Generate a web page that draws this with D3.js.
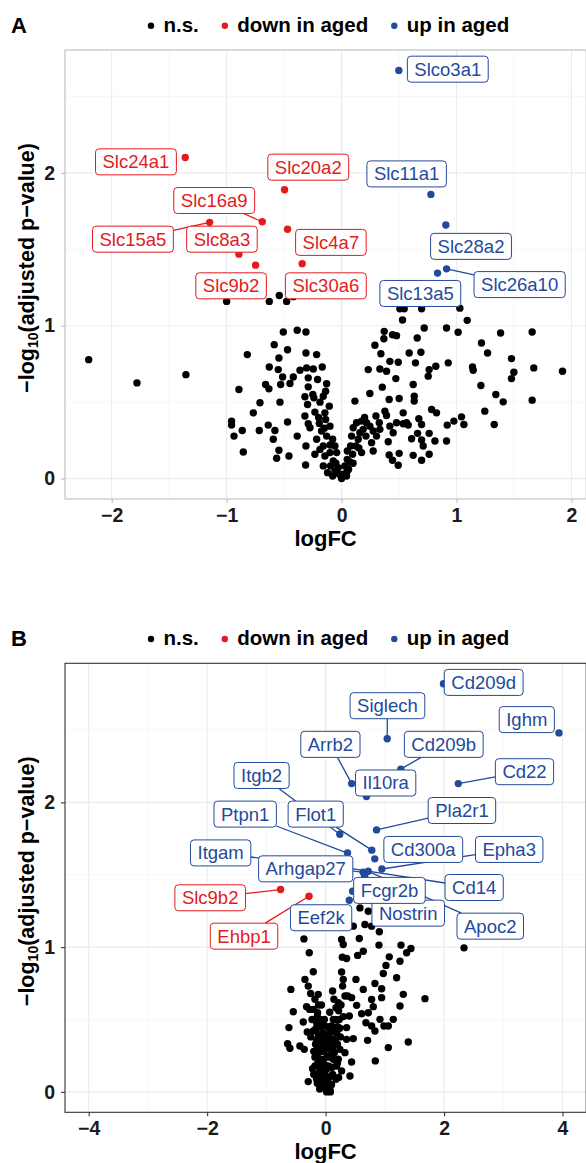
<!DOCTYPE html>
<html>
<head>
<meta charset="utf-8">
<script src="https://cdn.jsdelivr.net/npm/d3@7"></script>
<style>
  body { margin: 0; background: #fff; }
  svg { display: block; }
</style>
</head>
<body>
<svg width="586" height="1163"></svg>
<script>
// ---- panel A : n.s. points [logFC, -log10 adj p]
const nsA = [
  [-2.20,0.778],[-1.78,0.626],[-1.354,0.680],
  [-1.0,1.159],[-0.629,1.159],[-0.542,1.198],[-0.478,1.159],[-0.42,1.19],
  [-0.507,0.959],[-0.386,0.970],[-0.31,0.959],
  [-0.586,0.876],[-0.47,0.843],[-0.82,0.811],[-0.31,0.822],[-0.217,0.811],
  [-0.545,0.789],[-0.629,0.730],[-0.551,0.713],[-0.513,0.665],[-0.362,0.709],[-0.304,0.724],[-0.246,0.717],[-0.168,0.730],[-0.42,0.665],[-0.29,0.659],[-0.209,0.648],
  [-0.893,0.583],[-0.661,0.615],[-0.632,0.587],[-0.530,0.615],[-0.449,0.622],[-0.29,0.6],[-0.13,0.62],
  [-0.71,0.496],[-0.536,0.5],[-0.319,0.535],[-0.241,0.528],[-0.159,0.539],[-0.296,0.485],[-0.188,0.5],[-0.107,0.474],[-0.139,0.572],
  [-0.768,0.430],[-0.957,0.376],[-0.957,0.35],[-0.864,0.315],[-0.936,0.278],[-0.855,0.174],[-0.716,0.315],[-0.638,0.35],[-0.58,0.315],[-0.594,0.257],[-0.545,0.185],[-0.565,0.133],[-0.458,0.148],[-0.47,0.37],[-0.386,0.278],[-0.319,0.409],[-0.29,0.359],[-0.232,0.435],[-0.275,0.333],[-0.31,0.213],[-0.313,0.089],[-0.232,0.159],[-0.194,0.361],[-0.145,0.430],[-0.139,0.387],[-0.101,0.343],[-0.174,0.311],[-0.217,0.257],[-0.159,0.213],[-0.13,0.278],[-0.188,0.191],[-0.145,0.148],[-0.101,0.17],[-0.159,0.083],[-0.122,0.039],[-0.072,0.115],[-0.058,0.05],[-0.078,0.017],[-0.029,0.072],[0,0],[-0.02,0.028],[0.014,0.028],[0.043,0.017],[0.061,0.061],[0.072,0.109],[0.096,0.159],
  [0.101,0.333],[0.116,0.507],[0.125,0.213],[0.145,0.257],[0.159,0.3],[0.174,0.17],[0.188,0.322],[0.212,0.278],[0.246,0.343],[0.261,0.235],[0.275,0.180],[0.299,0.409],[0.328,0.365],[0.246,0.557],[0.232,0.713],[0.29,0.872],[0.342,0.817],[0.371,0.963],[0.368,0.915],[0.333,0.717],[0.391,0.702],[0.354,0.598],[0.414,0.517],[0.420,0.767],[0.443,0.941],[0.478,0.935],[0.493,0.761],[0.472,0.654],[0.501,0.524],[0.536,0.430],[0.377,0.441],[0.391,0.413],[0.406,0.241],[0.414,0.154],[0.443,0.12],[0.493,0.087],[0.501,0.165],[0.536,0.359],[0.565,0.365],[0.58,0.35],[0.449,0.3],
  [0.530,1.037],[0.545,1.111],[0.507,1.111],[0.588,0.822],[0.623,0.615],[0.632,0.539],[0.632,0.507],[0.643,0.757],[0.658,0.920],[0.690,0.826],[0.719,0.985],[0.696,1.111],[0.754,0.670],[0.762,0.713],[0.82,0.735],[0.783,0.452],[0.826,0.430],[0.672,0.391],[0.696,0.354],[0.661,0.296],[0.609,0.261],[0.696,0.252],[0.71,0.213],[0.762,0.296],[0.812,0.246],[0.762,0.159],[0.696,0.12],[0.623,0.152],
  [0.913,0.985],[0.928,0.757],[0.913,0.246],[0.919,0.35],[0.977,0.376],[1.014,0.957],[1.029,1.115],[1.093,1.035],[1.043,0.404],[1.064,0.354],[1.139,0.730],[1.145,0.709],[1.217,0.887],[1.270,0.822],[1.212,0.609],[1.246,0.441],[1.328,0.354],[1.342,0.55],[1.406,0.502],[1.383,0.952],[1.478,0.785],[1.499,0.696],[1.478,0.654],[1.658,0.959],[1.672,0.724],[1.658,0.513],[1.922,0.702],
  [-0.078,0.257],[-0.058,0.213],[-0.043,0.17],[-0.096,0.083],[0.078,0.213],[0.049,0.126],[0.087,0.278],[0.029,0.083],[0.13,0.365],[0.174,0.376],[0.217,0.365],[0.275,0.311],[0.333,0.322],[0.42,0.343],[0.478,0.365],[0.304,0.278],
  [-0.05,0.1],[0.05,0.05],[-0.1,0.22],[0.1,0.1],[-0.15,0.33],[0.15,0.2],[-0.2,0.4],[0.2,0.4],[-0.25,0.55],[0.05,0.18]
];

// ---- panel A : significant genes
const genesA  = ['Slco3a1','Slc24a1','Slc20a2','Slc11a1','Slc16a9','Slc15a5','Slc4a7','Slc28a2','Slc8a3','Slc9b2','Slc30a6','Slc26a10','Slc13a5'];
const logFCA  = [0.498, -1.36, -0.496, 0.777, -0.69, -1.148, -0.47, 0.907, -0.893, -0.748, -0.343, 0.913, 0.835];
const pvalA   = [2.67, 2.10, 1.889, 1.859, 1.68, 1.676, 1.631, 1.659, 1.468, 1.396, 1.406, 1.372, 1.344];
const dirA    = ['up','down','down','up','down','down','down','up','down','down','down','up','up'];

// ---- panel B : n.s. points
const nsB = [
  [-0.366,1.057],[-0.276,0.961],[-0.208,0.830],[-0.349,0.777],[-0.293,0.731],[-0.253,0.680],[-0.124,0.674],[-0.586,0.708],[-0.321,0.589],[-0.208,0.570],[-0.546,0.554],[-0.135,0.547],[-0.377,0.483],[-0.152,0.478],[-0.619,0.444],[-0.31,0.414],[-0.208,0.421],[-0.642,0.333],[-0.603,0.301],[-0.434,0.317],[-0.36,0.294],[-0.293,0.071],[-0.152,0.363],[-0.124,0.271],[-0.18,0.179],[-0.107,0.133],[-0.039,0.087],[0,0.018],[-0.068,0.053],[0.062,0.053],[0.101,0.110],[0.045,0.179],[0.13,0.225],[0.084,0.294],[0.118,0.363],[0.158,0.421],[0.13,0.501],[0.175,0.582],[0.118,0.697],[0.214,0.616],[0.287,0.731],[0.270,0.828],[0.282,0.931],[0.355,0.922],[0.270,1.053],[0.298,1.018],
  [0.569,1.060],[0.541,0.943],[0.636,0.972],[0.512,0.777],[0.636,0.708],[0.372,0.662],[0.439,0.651],[0.524,0.598],[0.4,0.524],[0.608,0.540],[0.721,0.547],[0.355,0.444],[0.467,0.368],[0.355,0.363],[0.439,0.207],[0.411,0.110],[0.327,0.271],[0.242,0.294],[0.214,0.225],[0.270,0.145],[0.186,0.179],[0.175,0.087],
  [0.833,0.749],[0.777,0.639],[0.805,0.589],[0.681,0.478],[0.777,0.455],[0.833,0.421],[0.709,0.356],[0.839,0.214],[0.946,0.713],[0.946,0.651],[0.918,0.501],[0.985,0.455],[1.059,0.306],[0.907,1.106],[0.901,1.014],[1.019,0.874],[0.974,0.818],[1.199,0.789],[1.075,0.933],[1.273,1.014],[1.441,0.991],[1.368,0.961],[1.256,0.903],[1.312,0.674],[1.256,0.593],[1.143,0.501],[1.059,0.455],[1.396,0.345],[1.678,0.644],[2.337,0.995],
  [0.664,1.156],[0.777,1.145],[0.467,1.145],[0.58,1.271],[0.721,1.248],
  [-0.039,0.225],[-0.011,0.317],[-0.039,0.409],[-0.096,0.501],[0.017,0.156],[0.045,0.248],[0.062,0.386],[0.101,0.455],[-0.135,0.317],[-0.096,0.225],[-0.152,0.087],[-0.068,0.110],[-0.011,0.053],[0.017,0],[0.073,0.018],[0.298,0.777],[0.327,0.662],
  [-0.10,0.30],[-0.12,0.40],[-0.06,0.35],[-0.08,0.45],[0.05,0.32],[0.08,0.42],[0.03,0.45],[-0.05,0.14],[0.11,0.17],[-0.13,0.2],[0.15,0.27],[0.2,0.33],[0.2,0.45],[0.25,0.38],[-0.2,0.28],[-0.02,0.5],[0.07,0.55],[-0.07,0.6],[0.14,0.64],[-0.18,0.64],[0.23,0.5],[0.1,0.05],[-0.1,0.02],[0.04,0.09],
  [-0.2,0.12],[-0.18,0.24],[-0.17,0.33],[-0.16,0.44],[-0.14,0.52],[-0.12,0.6],[-0.09,0.16],[-0.08,0.28],[-0.07,0.38],[-0.05,0.47],[-0.03,0.28],[-0.02,0.19],[-0.01,0.39],[0.0,0.11],[0.02,0.36],[0.03,0.24],[0.05,0.06],[0.06,0.17],[0.07,0.3],[0.09,0.36],[0.1,0.24],[0.12,0.31],[0.13,0.42],[0.16,0.35],[0.17,0.5],[0.19,0.4],[0.22,0.56],[0.24,0.44],[0.26,0.6],[0.3,0.52],[-0.25,0.38],[-0.23,0.5],[-0.27,0.57],[-0.22,0.16],[0.12,0.12],[-0.14,0.06],[0.08,0.0],[-0.04,0.03],[0.2,0.2],[0.22,0.1]
];

// ---- panel B : significant genes
const genesB = ['Cd209d','Ighm','Siglech','Cd209b','Arrb2','Cd22','Il10ra','Pla2r1','Itgb2','Flot1','Ptpn1','Cd300a','Cd14','Epha3','Apoc2','Itgam','Arhgap27','Nostrin','Fcgr2b','Eef2k','Slc9b2','Ehbp1'];
const logFCB = [1.99, 3.94, 1.04, 1.27, 0.44, 2.24, 0.69, 0.86, 0.24, 0.78, 0.37, 0.83, 0.33, 0.95, 0.72, 0.635, 0.66, 0.66, 0.456, 0.40, -0.76, -0.28];
const pvalB  = [2.82, 2.48, 2.44, 2.23, 2.13, 2.13, 2.04, 1.81, 1.78, 1.67, 1.65, 1.61, 1.55, 1.54, 1.524, 1.517, 1.49, 1.467, 1.386, 1.324, 1.398, 1.352];
const dirB   = ['up','up','up','up','up','up','up','up','up','up','up','up','up','up','up','up','up','up','up','up','down','down'];

const legendItems = ['n.s.', 'down in aged', 'up in aged'];
const xTicksA = [-2, -1, 0, 1, 2];
const xTicksB = [-4, -2, 0, 2, 4];
const yTicks = [0, 1, 2];

// ---- layout: where the repelled labels ended up (data units) and which get a leader line
const labelSpotA = {
  Slco3a1: [0.924, 2.678], Slc24a1: [-1.789, 2.072], Slc20a2: [-0.290, 2.037], Slc11a1: [0.566, 1.993],
  Slc16a9: [-1.108, 1.819], Slc15a5: [-1.815, 1.566], Slc8a3: [-1.041, 1.566], Slc4a7: [-0.093, 1.545],
  Slc28a2: [1.126, 1.519], Slc9b2: [-0.961, 1.261], Slc30a6: [-0.137, 1.261], Slc26a10: [1.549, 1.269],
  Slc13a5: [0.685, 1.211]
};
const leaderA = ['Slc15a5', 'Slc16a9', 'Slc26a10'];
const labelSpotB = {
  Cd209d: [2.669, 2.829], Siglech: [1.044, 2.668], Ighm: [3.397, 2.572], Arrb2: [0.081, 2.401],
  Cd209b: [1.995, 2.401], Cd22: [3.358, 2.212], Itgb2: [-1.081, 2.186], Il10ra: [1.014, 2.134],
  Pla2r1: [2.302, 1.944], Ptpn1: [-1.358, 1.919], Flot1: [-0.167, 1.919], Itgam: [-1.772, 1.651],
  Cd300a: [1.649, 1.675], Epha3: [3.100, 1.675], Arhgap27: [-0.336, 1.541], Cd14: [2.508, 1.412],
  Slc9b2: [-1.949, 1.341], Fcgr2b: [1.078, 1.392], Eef2k: [-0.076, 1.203], Nostrin: [1.395, 1.235],
  Ehbp1: [-1.377, 1.076], Apoc2: [2.780, 1.145]
};
const leaderB = ['Siglech','Cd209b','Arrb2','Cd22','Itgb2','Pla2r1','Ptpn1','Flot1','Itgam','Epha3','Cd14','Apoc2','Nostrin','Slc9b2','Ehbp1'];

const FONT = "'Liberation Sans', Arial, Helvetica, sans-serif";
const colour = { ns: '#000000', down: '#e41a1c', up: '#234a9c' };
const minus = d => d < 0 ? '\u2212' + Math.abs(d) : String(d);

const svg = d3.select('svg').attr('font-family', FONT);

const volcano = (selection, props) => {
  const { top, letter, ns, genes, logFC, pval, dir, spots, leaders, xLimits, xTicks, frame } = props;
  const left = 65, right = 586.2, bottom = top + 449;

  const rows = genes.map((gene, i) => ({
    gene, x: logFC[i], y: pval[i], dir: dir[i],
    lx: spots[gene][0], ly: spots[gene][1], leader: leaders.includes(gene)
  }));

  const xr = xLimits || d3.extent(ns.map(d => d[0]).concat(logFC));
  const yr = d3.extent(ns.map(d => d[1]).concat(pval));
  const xPad = (xr[1] - xr[0]) * 0.05, yPad = (yr[1] - yr[0]) * 0.05;

  const xScale = d3.scaleLinear().domain([xr[0] - xPad, xr[1] + xPad]).range([left, right]);
  const yScale = d3.scaleLinear().domain([yr[0] - yPad, yr[1] + yPad]).range([bottom, top]);

  const g = selection.append('g');

  // minor breaks halfway between the majors
  const minors = (ticks, scale) => {
    const step = ticks[1] - ticks[0];
    const [lo, hi] = scale.domain();
    const out = [];
    for (let v = ticks[0] - step / 2; v <= hi; v += step) if (v >= lo) out.push(v);
    return out;
  };

  const grid = g.append('g');
  grid.selectAll('.vmin').data(minors(xTicks, xScale)).join('line')
    .attr('x1', d => xScale(d)).attr('x2', d => xScale(d)).attr('y1', top).attr('y2', bottom)
    .attr('stroke', '#f2f2f2').attr('stroke-width', 0.6);
  grid.selectAll('.hmin').data(minors(yTicks, yScale)).join('line')
    .attr('y1', d => yScale(d)).attr('y2', d => yScale(d)).attr('x1', left).attr('x2', right)
    .attr('stroke', '#f2f2f2').attr('stroke-width', 0.6);
  grid.append('g').selectAll('line').data(xTicks).join('line')
    .attr('x1', d => xScale(d)).attr('x2', d => xScale(d)).attr('y1', top).attr('y2', bottom)
    .attr('stroke', '#ebebeb').attr('stroke-width', 1.1);
  grid.append('g').selectAll('line').data(yTicks).join('line')
    .attr('y1', d => yScale(d)).attr('y2', d => yScale(d)).attr('x1', left).attr('x2', right)
    .attr('stroke', '#ebebeb').attr('stroke-width', 1.1);

  // Points
  g.append('g').selectAll('circle').data(ns).join('circle')
    .attr('cx', d => xScale(d[0])).attr('cy', d => yScale(d[1]))
    .attr('r', 3.7).attr('fill', colour.ns);
  g.append('g').selectAll('circle').data(rows).join('circle')
    .attr('cx', d => xScale(d.x)).attr('cy', d => yScale(d.y))
    .attr('r', 3.7).attr('fill', d => colour[d.dir]);

  const segG = g.append('g');

  // Labels
  const lab = g.append('g').selectAll('g').data(rows).join('g')
    .attr('transform', d => `translate(${xScale(d.lx)},${yScale(d.ly)})`);
  lab.append('rect')
    .attr('fill', '#fff').attr('stroke', d => colour[d.dir]).attr('stroke-width', 1).attr('rx', 3.5);
  lab.append('text')
    .attr('text-anchor', 'middle').attr('dy', '0.35em')
    .attr('font-size', 18.5).attr('fill', d => colour[d.dir])
    .text(d => d.gene);
  lab.each(function (d) {
    d.w = this.querySelector('text').getComputedTextLength() + 14;
    d.h = 26;
    d3.select(this).select('rect')
      .attr('x', -d.w / 2).attr('y', -d.h / 2).attr('width', d.w).attr('height', d.h);
  });

  // leader lines, point -> box edge on the way to the label centre
  segG.selectAll('line').data(rows.filter(d => d.leader)).join('line')
    .each(function (d) {
      const px = xScale(d.x), py = yScale(d.y);
      const cx = xScale(d.lx), cy = yScale(d.ly);
      const dx = px - cx, dy = py - cy;
      const s = Math.min(dx ? (d.w / 2) / Math.abs(dx) : Infinity, dy ? (d.h / 2) / Math.abs(dy) : Infinity);
      d3.select(this)
        .attr('x1', px).attr('y1', py)
        .attr('x2', cx + dx * s).attr('y2', cy + dy * s);
    })
    .attr('stroke', d => colour[d.dir]).attr('stroke-width', 1.3);

  // panel border
  g.append('rect')
    .attr('x', left).attr('y', top).attr('width', right - left).attr('height', bottom - top)
    .attr('fill', 'none').attr('stroke', frame).attr('stroke-width', 1.1);

  const styleAxis = a => {
    a.select('.domain').remove();
    a.selectAll('line').attr('stroke', frame).attr('stroke-width', 1.1);
    a.selectAll('text')
      .attr('font-family', FONT).attr('font-size', 19.5).attr('font-weight', 'bold').attr('fill', '#1a1a1a');
  };

  g.append('g').attr('transform', `translate(0,${bottom})`)
    .call(d3.axisBottom(xScale).tickValues(xTicks).tickSize(4).tickPadding(5).tickFormat(minus))
    .call(styleAxis);
  g.append('g').attr('transform', `translate(${left},0)`)
    .call(d3.axisLeft(yScale).tickValues(yTicks).tickSize(4).tickPadding(6).tickFormat(minus))
    .call(styleAxis);

  // axis titles
  g.append('text')
    .attr('x', (left + right) / 2).attr('y', bottom + 46.5)
    .attr('text-anchor', 'middle').attr('font-size', 22).attr('font-weight', 'bold')
    .text('logFC');
  const yt = g.append('text')
    .attr('transform', `translate(34,${top + 218})rotate(-90)`)
    .attr('text-anchor', 'middle').attr('font-size', 21.5).attr('font-weight', 'bold');
  yt.append('tspan').text('\u2212log');
  yt.append('tspan').attr('font-size', 14).attr('dy', 4).text('10');
  yt.append('tspan').attr('dy', -4).text('(adjusted p\u2212value)');

  // panel letter
  g.append('text')
    .attr('x', 11).attr('y', top - 17)
    .attr('font-size', 22).attr('font-weight', 'bold')
    .text(letter);

  // legend
  const leg = g.append('g').attr('transform', `translate(151,${top - 18.3})`);
  let lx = 0;
  legendItems.forEach((name, i) => {
    const key = ['ns', 'down', 'up'][i];
    leg.append('circle').attr('cx', lx).attr('cy', -6).attr('r', 3.2).attr('fill', colour[key]);
    const t = leg.append('text')
      .attr('x', lx + 12.5).attr('y', 0)
      .attr('font-size', 20.5).attr('font-weight', 'bold')
      .text(name);
    lx += 12.5 + t.node().getComputedTextLength() + 26;
  });
};

svg.call(volcano, {
  top: 50, letter: 'A', ns: nsA,
  genes: genesA, logFC: logFCA, pval: pvalA, dir: dirA,
  spots: labelSpotA, leaders: leaderA,
  xLimits: null, xTicks: xTicksA, frame: '#bdbdbd'
});

svg.call(volcano, {
  top: 663.3, letter: 'B', ns: nsB,
  genes: genesB, logFC: logFCB, pval: pvalB, dir: dirB,
  spots: labelSpotB, leaders: leaderB,
  xLimits: [-4, 4], xTicks: xTicksB, frame: '#333333'
});
</script>
</body>
</html>
